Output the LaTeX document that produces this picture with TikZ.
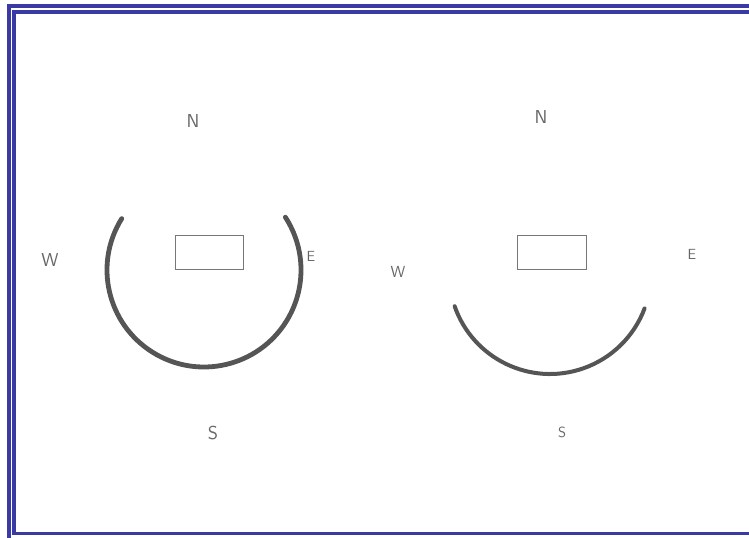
\documentclass[tikz,border=0pt]{standalone}
\usepackage{tikz}

\definecolor{frameblue}{RGB}{58,58,165}
\definecolor{pencil}{RGB}{85,85,85}

\begin{document}
\begin{tikzpicture}[x=0.75pt,y=-0.75pt,
  frame/.style={draw=frameblue,line width=2.3pt},
  ring/.style={draw=pencil,line width=3pt,line cap=round},
  box/.style={draw=pencil!80,line width=0.9pt,minimum width=51.5pt,minimum height=26pt,inner sep=0pt},
  dir/.style={text=pencil!90,font=\sffamily\fontsize{14}{16}\selectfont,inner sep=0pt}]
\useasboundingbox (0,0) rectangle (749,538);
% double frame
\draw[frame] (9,538) -- (9,6) -- (749,6);
\draw[frame] (749,12) -- (14,12) -- (14,533.5) -- (749,533.5);
% left sketch
\coordinate (cL) at (204,270);
\node[box] (boxL) at (209.5,252.5) {};
\draw[ring,line width=3.6pt] (cL) ++(212:97) arc[start angle=212,end angle=-33,radius=97];
\node[dir] (nL) at (193,121) {N};
\node[dir] (wL) at (50,260) {W};
\node[dir,font=\sffamily\fontsize{11}{13}\selectfont] (eL) at (311,256) {E};
\node[dir] (sL) at (213,433) {S};
% right sketch
\coordinate (cR) at (550,273);
\node[box] (boxR) at (552,252.5) {};
\draw[ring] (cR) ++(160.8:101) arc[start angle=160.8,end angle=20.5,radius=101];
\node[dir] (nR) at (541,117) {N};
\node[dir,font=\sffamily\fontsize{12}{14}\selectfont] (wR) at (398,272) {W};
\node[dir,font=\sffamily\fontsize{11}{13}\selectfont] (eR) at (692,254) {E};
\node[dir,font=\sffamily\fontsize{11}{13}\selectfont] (sR) at (562,432) {S};
\end{tikzpicture}
\end{document}
